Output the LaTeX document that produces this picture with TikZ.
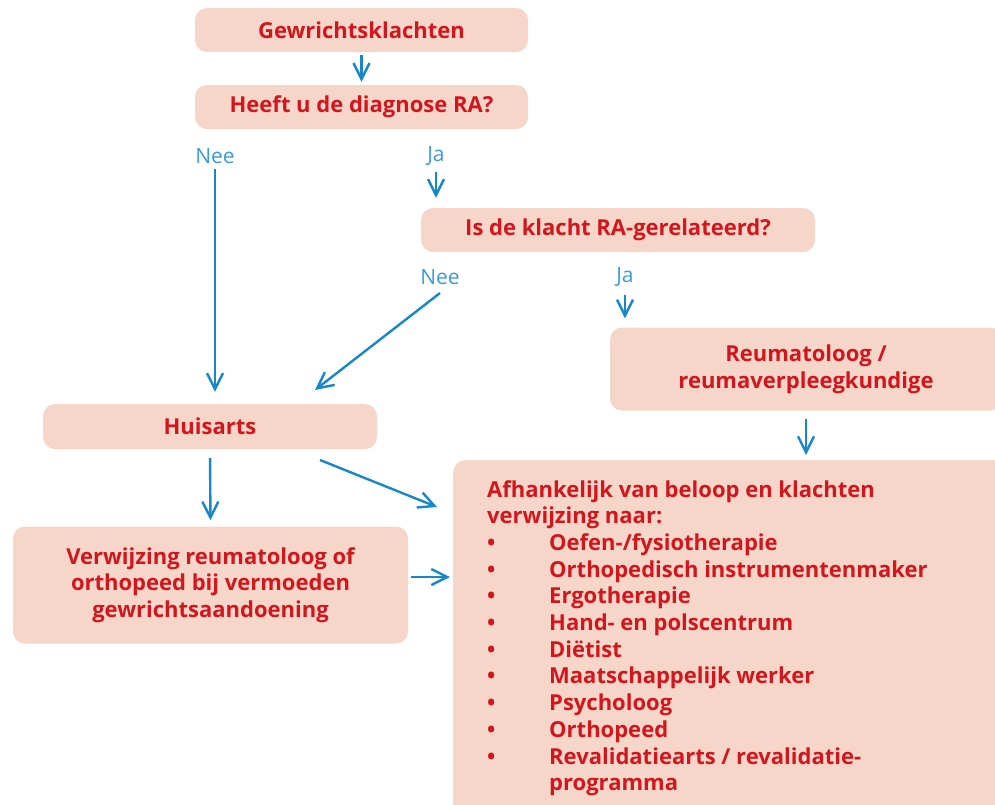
\documentclass[tikz,border=0pt]{standalone}
\usepackage{fontspec}
\setmainfont{Open Sans}
\usetikzlibrary{arrows.meta,calc}
\definecolor{boxfill}{HTML}{F6D6C9}
\definecolor{txtred}{HTML}{D2161E}
\definecolor{arrblue}{HTML}{1787CA}
\definecolor{lblblue}{HTML}{3C9CD8}
\tikzset{
  box/.style={fill=boxfill, rounded corners=12pt, inner sep=0pt, align=center,
    text=txtred, font=\fontsize{22}{26.7}\selectfont\bfseries},
  lbl/.style={text=lblblue, font=\fontsize{21}{24}\selectfont, inner sep=0pt},
  arr/.style={draw=arrblue, line width=2.4pt, -{Straight Barb[length=16pt,width=16pt,line width=2.4pt]}},
}
\begin{document}
\begin{tikzpicture}[x=1pt,y=-1pt]
\useasboundingbox (0,0) rectangle (995,804);
\clip (0,0) rectangle (995,804);
% boxes
\node[box, minimum width=333, minimum height=44] (b1) at (361.5,30) {Gewrichtsklachten};
\node[box, minimum width=333, minimum height=44] (b2) at (361.5,107) {Heeft u de diagnose RA?};
\node[box, minimum width=394, minimum height=44] (b3) at (618,230) {Is de klacht RA-gerelateerd?};
\node[box, minimum width=392, minimum height=83] (b4) at (806,369) {Reumatoloog /\\reumaverpleegkundige};
\node[box, minimum width=334, minimum height=45] (ha) at (210,426.5) {Huisarts};
\node[box, minimum width=395, minimum height=117] (vw) at (210.5,585) {Verwijzing reumatoloog of\\orthopeed bij vermoeden\\gewrichtsaandoening};
\node[box, anchor=north west, minimum width=600, minimum height=400] (b5) at (453,460) {};
\node[anchor=north west, align=left, inner sep=0pt, text=txtred,
  font=\fontsize{22}{26.7}\selectfont\bfseries] (b5t) at (487,480)
  {Afhankelijk van beloop en klachten\\
   verwijzing naar:\\
   \makebox[62pt][l]{\textbullet}Oefen-/fysiotherapie\\
   \makebox[62pt][l]{\textbullet}Orthopedisch instrumentenmaker\\
   \makebox[62pt][l]{\textbullet}Ergotherapie\\
   \makebox[62pt][l]{\textbullet}Hand- en polscentrum\\
   \makebox[62pt][l]{\textbullet}Diëtist\\
   \makebox[62pt][l]{\textbullet}Maatschappelijk werker\\
   \makebox[62pt][l]{\textbullet}Psycholoog\\
   \makebox[62pt][l]{\textbullet}Orthopeed\\
   \makebox[62pt][l]{\textbullet}Revalidatiearts / revalidatie-\\
   \hspace*{62pt}programma};
% labels
\node[lbl] (nee1) at (215,156) {Nee};
\node[lbl] (ja1) at (436,156) {Ja};
\node[lbl] (nee2) at (440,277) {Nee};
\node[lbl] (ja2) at (625,277) {Ja};
\coordinate (d1s) at (440,293);
\coordinate (d1e) at (315,390);
\coordinate (d2s) at (320,460);
\coordinate (d2e) at (437,507);
% arrows
\draw[arr, shorten <=3pt, shorten >=3pt] (b1.south) -- (b2.north);
\draw[arr, shorten <=5pt, shorten >=12pt] (nee1.south) -- (nee1.south |- ha.north);
\draw[arr, shorten <=6pt, shorten >=10pt] (ja1.south) -- (ja1.south |- b3.north);
\draw[arr] (d1s) -- (d1e);
\draw[arr, shorten <=8pt, shorten >=9pt] (ja2.south) -- (ja2.south |- b4.north);
\draw[arr, shorten <=8pt, shorten >=5pt] (b4.south) -- (b4.south |- b5.north);
\draw[arr, shorten <=9pt, shorten >=6pt] (ha.south) -- (vw.north);
\draw[arr] (d2s) -- (d2e);
\draw[arr, shorten <=3pt, shorten >=3pt] ([yshift=8pt]vw.east) -- ([yshift=8pt]vw.east -| b5.west);
\end{tikzpicture}
\end{document}
